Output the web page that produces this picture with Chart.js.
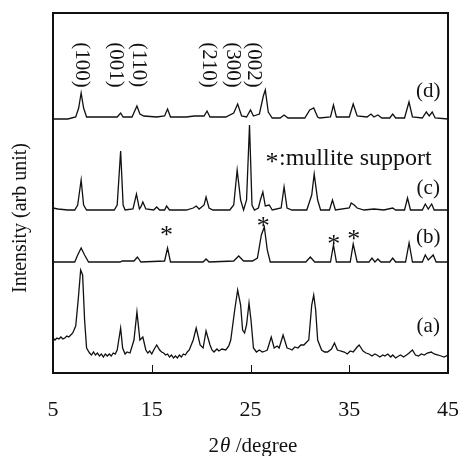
<!DOCTYPE html>
<html>
<head>
<meta charset="utf-8">
<script src="https://cdn.jsdelivr.net/npm/chart.js@4/dist/chart.umd.min.js"></script>
<style>
html,body{margin:0;padding:0;background:#fff;}
canvas{display:block;}
</style>
</head>
<body>
<canvas id="c" width="460" height="456"></canvas>
<script>
// ---- data (2θ in degree, intensity in arb. units incl. stacking offset) ----
const xTickValues = [5, 15, 25, 35, 45];
const xTickLabels = ['5', '15', '25', '35', '45'];

const xD = [5.0,6.5,7.3,7.6,7.85,8.1,8.4,10.5,11.5,11.85,12.1,13.0,13.5,13.8,14.2,15.5,16.3,16.6,16.9,18.5,19.3,20.3,20.6,20.9,22.5,23.3,23.7,24.1,24.6,25.0,25.3,25.9,26.3,26.5,26.8,27.2,28.0,28.4,28.8,30.5,31.0,31.4,31.8,32.0,33.1,33.4,33.7,35.0,35.4,35.8,36.8,37.2,37.5,37.9,38.3,39.1,39.4,39.7,40.6,41.05,41.4,42.4,42.8,43.1,43.4,43.7,45.0];
const yD = [254,254,256,265,280,265,256,256,256,260,256,256,267,259,257,256,257,264,256,256,257,257,262,256,256,260,269,257,256,263,257,259,277,283,261,255,255,258,255,255,263,265,256,255,256,268,256,256,269,257,256,259,256,258,255,255,259,255,255,271,256,255,261,257,261,255,254];

const xC = [5.0,5.5,6.5,7.2,7.5,7.85,8.1,8.4,10.0,11.2,11.5,11.85,12.1,12.3,13.1,13.45,13.75,13.9,14.1,14.4,15.2,15.5,15.8,16.3,16.5,16.8,18.5,19.2,19.5,19.8,20.3,20.5,20.8,21.2,22.9,23.3,23.65,24.0,24.3,24.6,24.9,25.15,25.4,25.8,26.0,26.25,26.5,26.9,27.2,28.1,28.4,28.7,29.2,30.7,31.2,31.45,31.8,32.1,33.0,33.3,33.6,35.0,35.2,35.5,35.8,36.5,37.5,38.5,39.4,39.7,40.6,40.9,41.2,42.4,42.7,43.0,43.35,43.6,45.0];
const yC = [165,164,163,163,168,193,168,163,163,163,168,222,168,163,164,179,164,166,171,164,163,166,163,163,167,163,163,165,167,164,168,176,165,163,163,168,203,173,163,173,248,168,163,165,173,181,167,168,163,165,186,165,163,163,178,199,173,163,163,173,163,165,170,168,165,163,164,163,165,163,163,175,163,163,169,164,169,163,163];

const xB = [5.0,7.2,7.5,7.85,8.2,8.6,11.8,12.0,13.2,13.55,13.9,16.3,16.6,16.9,17.4,20.2,20.5,20.8,23.3,23.8,24.3,25.2,25.7,26.1,26.4,26.7,27.0,30.6,31.06,31.5,33.1,33.4,33.7,35.1,35.4,35.8,37.0,37.3,37.6,37.9,38.2,39.1,39.4,39.7,40.7,41.06,41.4,42.4,42.7,43.0,43.5,43.8,45.0];
const yB = [111,111,118,125,118,111,111,112,112,116,111,112,125,111,111,111,114,111,112,117,112,112,115,138,146,123,111,111,116,111,111,128,111,111,129,111,111,115,111,114,111,111,115,111,111,130,111,111,118,113,118,111,111];

const xA = [5.0,5.2,5.4,5.6,5.8,6.0,6.2,6.4,6.6,6.8,7.0,7.3,7.55,7.8,8.0,8.2,8.4,8.7,8.9,9.1,9.3,9.5,9.7,9.9,10.1,10.3,10.5,10.7,10.9,11.1,11.3,11.5,11.85,12.05,12.3,12.5,12.8,13.2,13.5,13.8,14.1,14.4,14.6,14.8,15.0,15.2,15.5,15.8,16.0,16.2,16.4,16.6,16.8,17.0,17.2,17.4,17.6,17.8,18.0,18.2,18.4,18.6,18.8,19.2,19.5,19.9,20.2,20.5,20.9,21.1,21.3,21.6,21.8,22.1,22.5,22.8,23.0,23.4,23.7,24.0,24.2,24.4,24.6,24.85,25.05,25.3,25.6,25.9,26.2,26.5,26.7,27.1,27.4,27.7,27.9,28.3,28.7,29.0,29.2,29.5,29.8,30.1,30.4,30.9,31.2,31.4,31.6,31.8,32.2,32.5,32.8,33.2,33.5,33.8,34.1,34.5,34.8,35.1,35.4,35.8,36.0,36.4,36.7,37.0,37.3,37.6,37.8,38.1,38.4,38.6,38.9,39.2,39.4,39.7,40.0,40.2,40.5,40.8,41.06,41.4,41.7,42.0,42.3,42.6,42.9,43.3,43.6,44.0,44.3,44.6,45.0];
const yA = [35,33,35,34,36,34,35,37,36,38,40,47,73,103,98,53,25,20,18,21,18,20,17,19,16,19,17,19,17,20,19,23,45,25,19,21,20,33,61,33,36,23,20,22,19,23,28,23,21,20,18,19,16,18,15,17,15,18,16,19,18,21,23,33,45,28,25,42,28,23,21,24,22,24,23,27,33,63,83,68,43,40,48,70,53,25,21,23,21,22,23,36,25,27,25,38,25,24,23,26,25,28,28,33,68,78,63,33,23,21,21,24,30,23,22,21,19,22,21,26,28,22,20,19,17,19,18,16,18,17,19,16,18,15,17,18,16,18,20,23,18,17,19,18,20,21,19,18,17,16,18,16];

const sampleLabels = ['(a)', '(b)', '(c)', '(d)'];
const hklLabels = ['(100)', '(001)', '(110)', '(210)', '(300)', '(002)'];
const hklAngles = [7.87, 11.33, 13.68, 20.77, 23.15, 25.3];
const mulliteAngles = [16.5, 26.3, 33.43, 35.45];
const legendText = ':mullite support';
const xTitle = ['2', 'θ', ' /degree'];
const yTitle = 'Intensity (arb unit)';

// ---- chart ----
const toPts = (xs, ys) => xs.map((x, i) => ({x: x, y: ys[i]}));
const serif = "'Liberation Serif','Times New Roman',serif";

const textPlugin = {
  id: 'textPlugin',
  afterDraw(chart) {
    const ctx = chart.ctx;
    const xs = chart.scales.x, ys = chart.scales.y;
    const a = chart.chartArea;
    ctx.save();
    ctx.fillStyle = '#111';
    ctx.strokeStyle = '#111';
    // frame
    ctx.lineWidth = 2;
    ctx.strokeRect(a.left, a.top, a.right - a.left, a.bottom - a.top);
    // inward ticks
    ctx.lineWidth = 1;
    xTickValues.forEach(v => {
      const px = Math.round(xs.getPixelForValue(v)) + 0.5;
      ctx.beginPath(); ctx.moveTo(px, a.bottom); ctx.lineTo(px, a.bottom - 8); ctx.stroke();
    });
    // tick labels
    ctx.font = '22px ' + serif;
    ctx.textAlign = 'center'; ctx.textBaseline = 'alphabetic';
    xTickValues.forEach((v, i) => {
      ctx.fillText(xTickLabels[i], xs.getPixelForValue(v), a.bottom + 43);
    });
    // x title with italic theta
    const f1 = '21px ' + serif, f2 = 'italic 21px ' + serif;
    ctx.font = f1; const w0 = ctx.measureText(xTitle[0]).width, w2 = ctx.measureText(xTitle[2]).width;
    ctx.font = f2; const w1 = ctx.measureText(xTitle[1]).width;
    let sx = (a.left + a.right) / 2 - (w0 + w1 + w2) / 2 + 2;
    const by = a.bottom + 79;
    ctx.textAlign = 'left';
    ctx.font = f1; ctx.fillText(xTitle[0], sx, by); sx += w0 + 1;
    ctx.font = f2; ctx.fillText(xTitle[1], sx, by); sx += w1;
    ctx.font = f1; ctx.fillText(xTitle[2], sx, by);
    // y title
    ctx.save();
    ctx.translate(21, 218);
    ctx.rotate(-Math.PI / 2);
    ctx.font = '20px ' + serif;
    ctx.textAlign = 'center'; ctx.textBaseline = 'middle';
    ctx.fillText(yTitle, 0, 0);
    ctx.restore();
    // hkl labels (rotated clockwise)
    ctx.font = '21px ' + serif;
    hklLabels.forEach((t, i) => {
      ctx.save();
      ctx.translate(xs.getPixelForValue(hklAngles[i]), 65);
      ctx.rotate(Math.PI / 2);
      ctx.textAlign = 'center'; ctx.textBaseline = 'middle';
      ctx.fillText(t, 0, 0);
      ctx.restore();
    });
    // sample labels
    ctx.font = '21px ' + serif;
    ctx.textAlign = 'center'; ctx.textBaseline = 'middle';
    const sampleY = [47, 136, 185, 282];
    sampleLabels.forEach((t, i) => {
      ctx.fillText(t, xs.getPixelForValue(43.0), ys.getPixelForValue(sampleY[i]));
    });
    // asterisks
    const drawStar = (cx, cy, size) => {
      ctx.font = size + 'px ' + serif;
      const m = ctx.measureText('*');
      ctx.textAlign = 'center'; ctx.textBaseline = 'alphabetic';
      ctx.fillText('*', cx, cy + m.actualBoundingBoxAscent - (m.actualBoundingBoxAscent + m.actualBoundingBoxDescent) / 2);
    };
    const starY = [135, 151, 133, 138];
    mulliteAngles.forEach((v, i) => drawStar(xs.getPixelForValue(v), ys.getPixelForValue(starY[i]), 26));
    // legend text
    drawStar(272, 158, 26);
    ctx.font = '24px ' + serif;
    ctx.textAlign = 'left'; ctx.textBaseline = 'alphabetic';
    ctx.fillText(legendText, 279, 165);
    ctx.restore();
  }
};

const mk = (xs, ys) => ({
  data: toPts(xs, ys),
  showLine: true, pointRadius: 0, borderColor: '#111', borderWidth: 1.3, tension: 0, fill: false
});

new Chart(document.getElementById('c'), {
  type: 'scatter',
  data: { datasets: [mk(xA, yA), mk(xB, yB), mk(xC, yC), mk(xD, yD)] },
  options: {
    responsive: false,
    animation: false,
    devicePixelRatio: 1,
    layout: { padding: { left: 53, right: 12, top: 13, bottom: 83 } },
    plugins: { legend: { display: false }, tooltip: { enabled: false } },
    scales: {
      x: { type: 'linear', min: 5, max: 45, display: false },
      y: { type: 'linear', min: 0, max: 360, display: false }
    }
  },
  plugins: [textPlugin]
});
</script>
</body>
</html>
